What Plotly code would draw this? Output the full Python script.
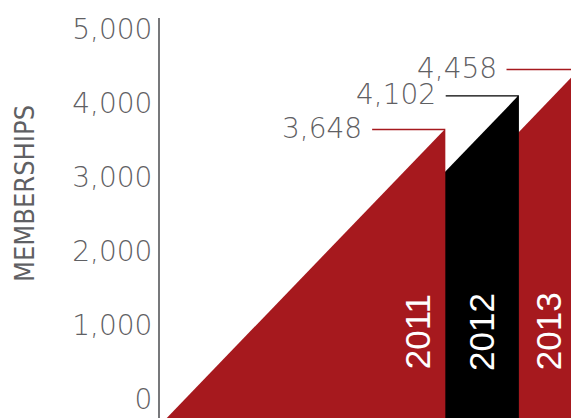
import plotly.graph_objects as go

# ---- data ----
years = ["2011", "2012", "2013"]
members = [3648, 4102, 4458]
# value at which each year's rising top edge starts (2011 rises from the bottom)
band_start = [None, 3070, 3605]
y_ticks = [0, 1000, 2000, 3000, 4000, 5000]
y_title = "MEMBERSHIPS"

# ---- styles ----
RED = "#A6191E"
BLACK = "#000000"
GRAY = "#5F6063"
band_colors = [RED, BLACK, RED]
Y_MIN, Y_MAX = -250, 5154
LEADER = 1017          # length of the leader line (x units)
NUM_FONT = dict(family="DejaVu Sans", size=28, color=GRAY, weight=200)

starts = [Y_MIN if s is None else s for s in band_start]
rises = [m - s for m, s in zip(members, starts)]
edges = [0]
for r in rises:
    edges.append(edges[-1] + r)
X_MIN = -95

fig = go.Figure()
for i, yr in enumerate(years):
    x0, x1 = edges[i], edges[i + 1]
    fig.add_trace(go.Scatter(
        x=[x0, x0, x1, x1, x0], y=[Y_MIN, starts[i], members[i], Y_MIN, Y_MIN],
        mode="lines", fill="toself", fillcolor=band_colors[i],
        line=dict(width=0, color=band_colors[i]), hoverinfo="skip", showlegend=False))

for i, yr in enumerate(years):
    x1 = edges[i + 1]
    fig.add_trace(go.Scatter(
        x=[x1 - LEADER, x1, x1], y=[members[i], members[i], Y_MIN],
        mode="lines", line=dict(width=1.4, color=band_colors[i]),
        hoverinfo="skip", showlegend=False))
    fig.add_annotation(x=x1 - LEADER, y=members[i], text=f"{members[i]:,}",
                       showarrow=False, xanchor="right", yanchor="middle",
                       xshift=-8, yshift=1, font=NUM_FONT)

year_x = [edges[1], (edges[1] + edges[2]) / 2, (edges[2] + edges[3]) / 2]
year_shift = [-27, 0, 0]
for i, yr in enumerate(years):
    fig.add_annotation(x=year_x[i], y=0.216, yref="paper", text=yr,
                       textangle=-90, showarrow=False, xanchor="center",
                       yanchor="middle", xshift=year_shift[i],
                       font=dict(family="Liberation Sans", size=35, color="white"))

fig.add_annotation(x=0, y=0.56, xref="paper", yref="paper", text=y_title,
                   textangle=-90, showarrow=False, xanchor="center",
                   yanchor="middle", xshift=-135,
                   font=dict(family="DejaVu Sans Condensed, Liberation Sans",
                             size=27, color=GRAY, weight=200))

fig.update_layout(
    width=579, height=418,
    margin=dict(l=152, r=8, t=10, b=8, autoexpand=False),
    paper_bgcolor="white", plot_bgcolor="white",
    xaxis=dict(range=[X_MIN, edges[-1]], visible=False, fixedrange=True,
               automargin=False),
    yaxis=dict(range=[Y_MIN, Y_MAX], tickvals=y_ticks,
               ticktext=[f"{v:,}" for v in y_ticks],
               showgrid=False, zeroline=False, showline=True,
               linecolor="#77787B", linewidth=2, ticks="", automargin=False,
               ticklabelstandoff=0, ticklabeloverflow="allow",
               tickfont=NUM_FONT),
)

fig.write_html("out.html")
